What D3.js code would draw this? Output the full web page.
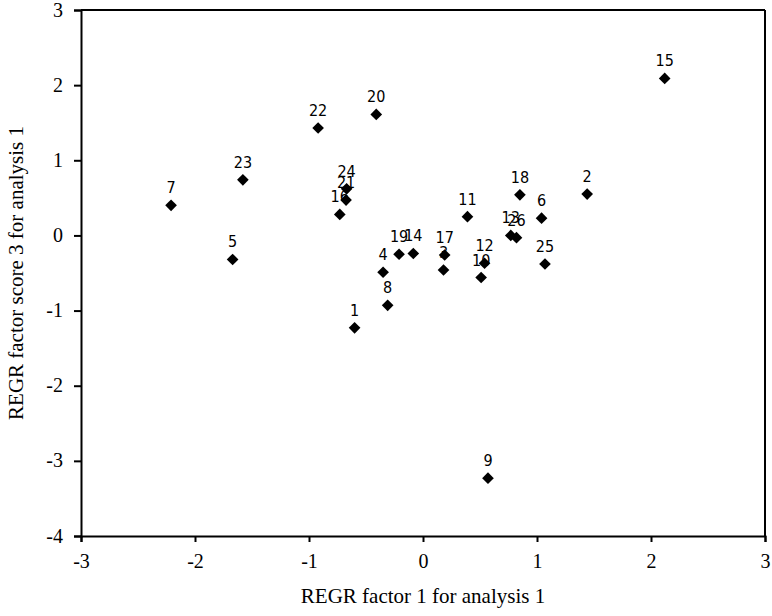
<!DOCTYPE html>
<html>
<head>
<meta charset="utf-8">
<script src="https://cdn.jsdelivr.net/npm/d3@7"></script>
<style>
  body { margin: 0; background: #fff; }
  .tick text { font-family: "Liberation Serif", "Times New Roman", serif; font-size: 20px; fill: #000; }
  .ptLabel { font-family: "DejaVu Sans Condensed", "DejaVu Sans", sans-serif; font-size: 16px; fill: #000; }
  .axTitle { font-family: "Liberation Serif", "Times New Roman", serif; font-size: 21px; fill: #000; }
</style>
</head>
<body>
<div id="chart"></div>
<script>
// case numbers and the two factor scores
var caseIds = [1, 2, 3, 4, 5, 6, 7, 8, 9, 10, 11, 12, 13,
    14, 15, 16, 17, 18, 19, 20, 21, 22, 23, 24, 25, 26];
var factor1 = [-0.60, 1.44, 0.18, -0.35, -1.67, 1.04, -2.21, -0.31, 0.57, 0.51, 0.39, 0.54, 0.77,
    -0.085, 2.12, -0.73, 0.19, 0.85, -0.21, -0.41, -0.675, -0.92, -1.58, -0.67, 1.07, 0.82];
var factor3 = [-1.23, 0.55, -0.46, -0.49, -0.32, 0.23, 0.40, -0.93, -3.23, -0.56, 0.25, -0.37, 0.0,
    -0.24, 2.09, 0.28, -0.26, 0.54, -0.25, 1.61, 0.47, 1.43, 0.74, 0.62, -0.38, -0.03];
var xTicks = [-3, -2, -1, 0, 1, 2, 3];
var yTicks = [-4, -3, -2, -1, 0, 1, 2, 3];

var svgWidth = 772;
var svgHeight = 616;
var margin = {top: 10, right: 7, bottom: 80, left: 81};
var width = svgWidth - margin.left - margin.right;
var height = svgHeight - margin.top - margin.bottom;

var points = caseIds.map(function(id, i) {
    return {id: id, x: factor1[i], y: factor3[i]};
});

var svg = d3.select('#chart').append('svg')
    .attr('width', svgWidth)
    .attr('height', svgHeight);

var g = svg.append('g')
    .attr('transform', `translate(${margin.left}, ${margin.top})`);

var x = d3.scaleLinear().domain([-3, 3]).range([0, width]);
var y = d3.scaleLinear().domain([-4, 3]).range([height, 0]);

// frame: top and right lines
g.append('line')
    .attr('x1', 0).attr('x2', width).attr('y1', 0).attr('y2', 0)
    .attr('stroke', '#000').attr('stroke-width', 2);
g.append('line')
    .attr('x1', width).attr('x2', width).attr('y1', 0).attr('y2', height)
    .attr('stroke', '#000').attr('stroke-width', 2);

var fmt = function(d) { return String(d); };

var xAxis = g.append('g')
    .attr('transform', `translate(0, ${height})`)
    .call(d3.axisBottom(x).tickValues(xTicks).tickFormat(fmt).tickSize(6).tickPadding(12));
var yAxis = g.append('g')
    .call(d3.axisLeft(y).tickValues(yTicks).tickFormat(fmt).tickSize(7).tickPadding(11));

[xAxis, yAxis].forEach(function(ax) {
    ax.select('.domain').attr('stroke', '#000').attr('stroke-width', 2);
    ax.selectAll('.tick line').attr('stroke', '#000').attr('stroke-width', 2);
});
yAxis.selectAll('.tick text').attr('dy', '0.3em');

var diamond = d3.symbol().type(d3.symbolSquare).size(68);

g.selectAll('.pt')
    .data(points)
    .enter()
    .append('path')
    .attr('class', 'pt')
    .attr('d', diamond)
    .attr('transform', d => `translate(${x(d.x)}, ${y(d.y)}) rotate(45)`)
    .attr('fill', '#000');

g.selectAll('.ptLabel')
    .data(points)
    .enter()
    .append('text')
    .attr('class', 'ptLabel')
    .attr('x', d => x(d.x))
    .attr('y', d => y(d.y) - 12)
    .attr('text-anchor', 'middle')
    .text(d => d.id);

svg.append('text')
    .attr('class', 'axTitle')
    .attr('x', margin.left + width / 2)
    .attr('y', 603)
    .attr('text-anchor', 'middle')
    .text('REGR factor 1 for analysis 1');

svg.append('text')
    .attr('class', 'axTitle')
    .attr('transform', `translate(23, ${margin.top + height / 2}) rotate(-90)`)
    .attr('text-anchor', 'middle')
    .text('REGR factor score 3 for analysis 1');
</script>
</body>
</html>
